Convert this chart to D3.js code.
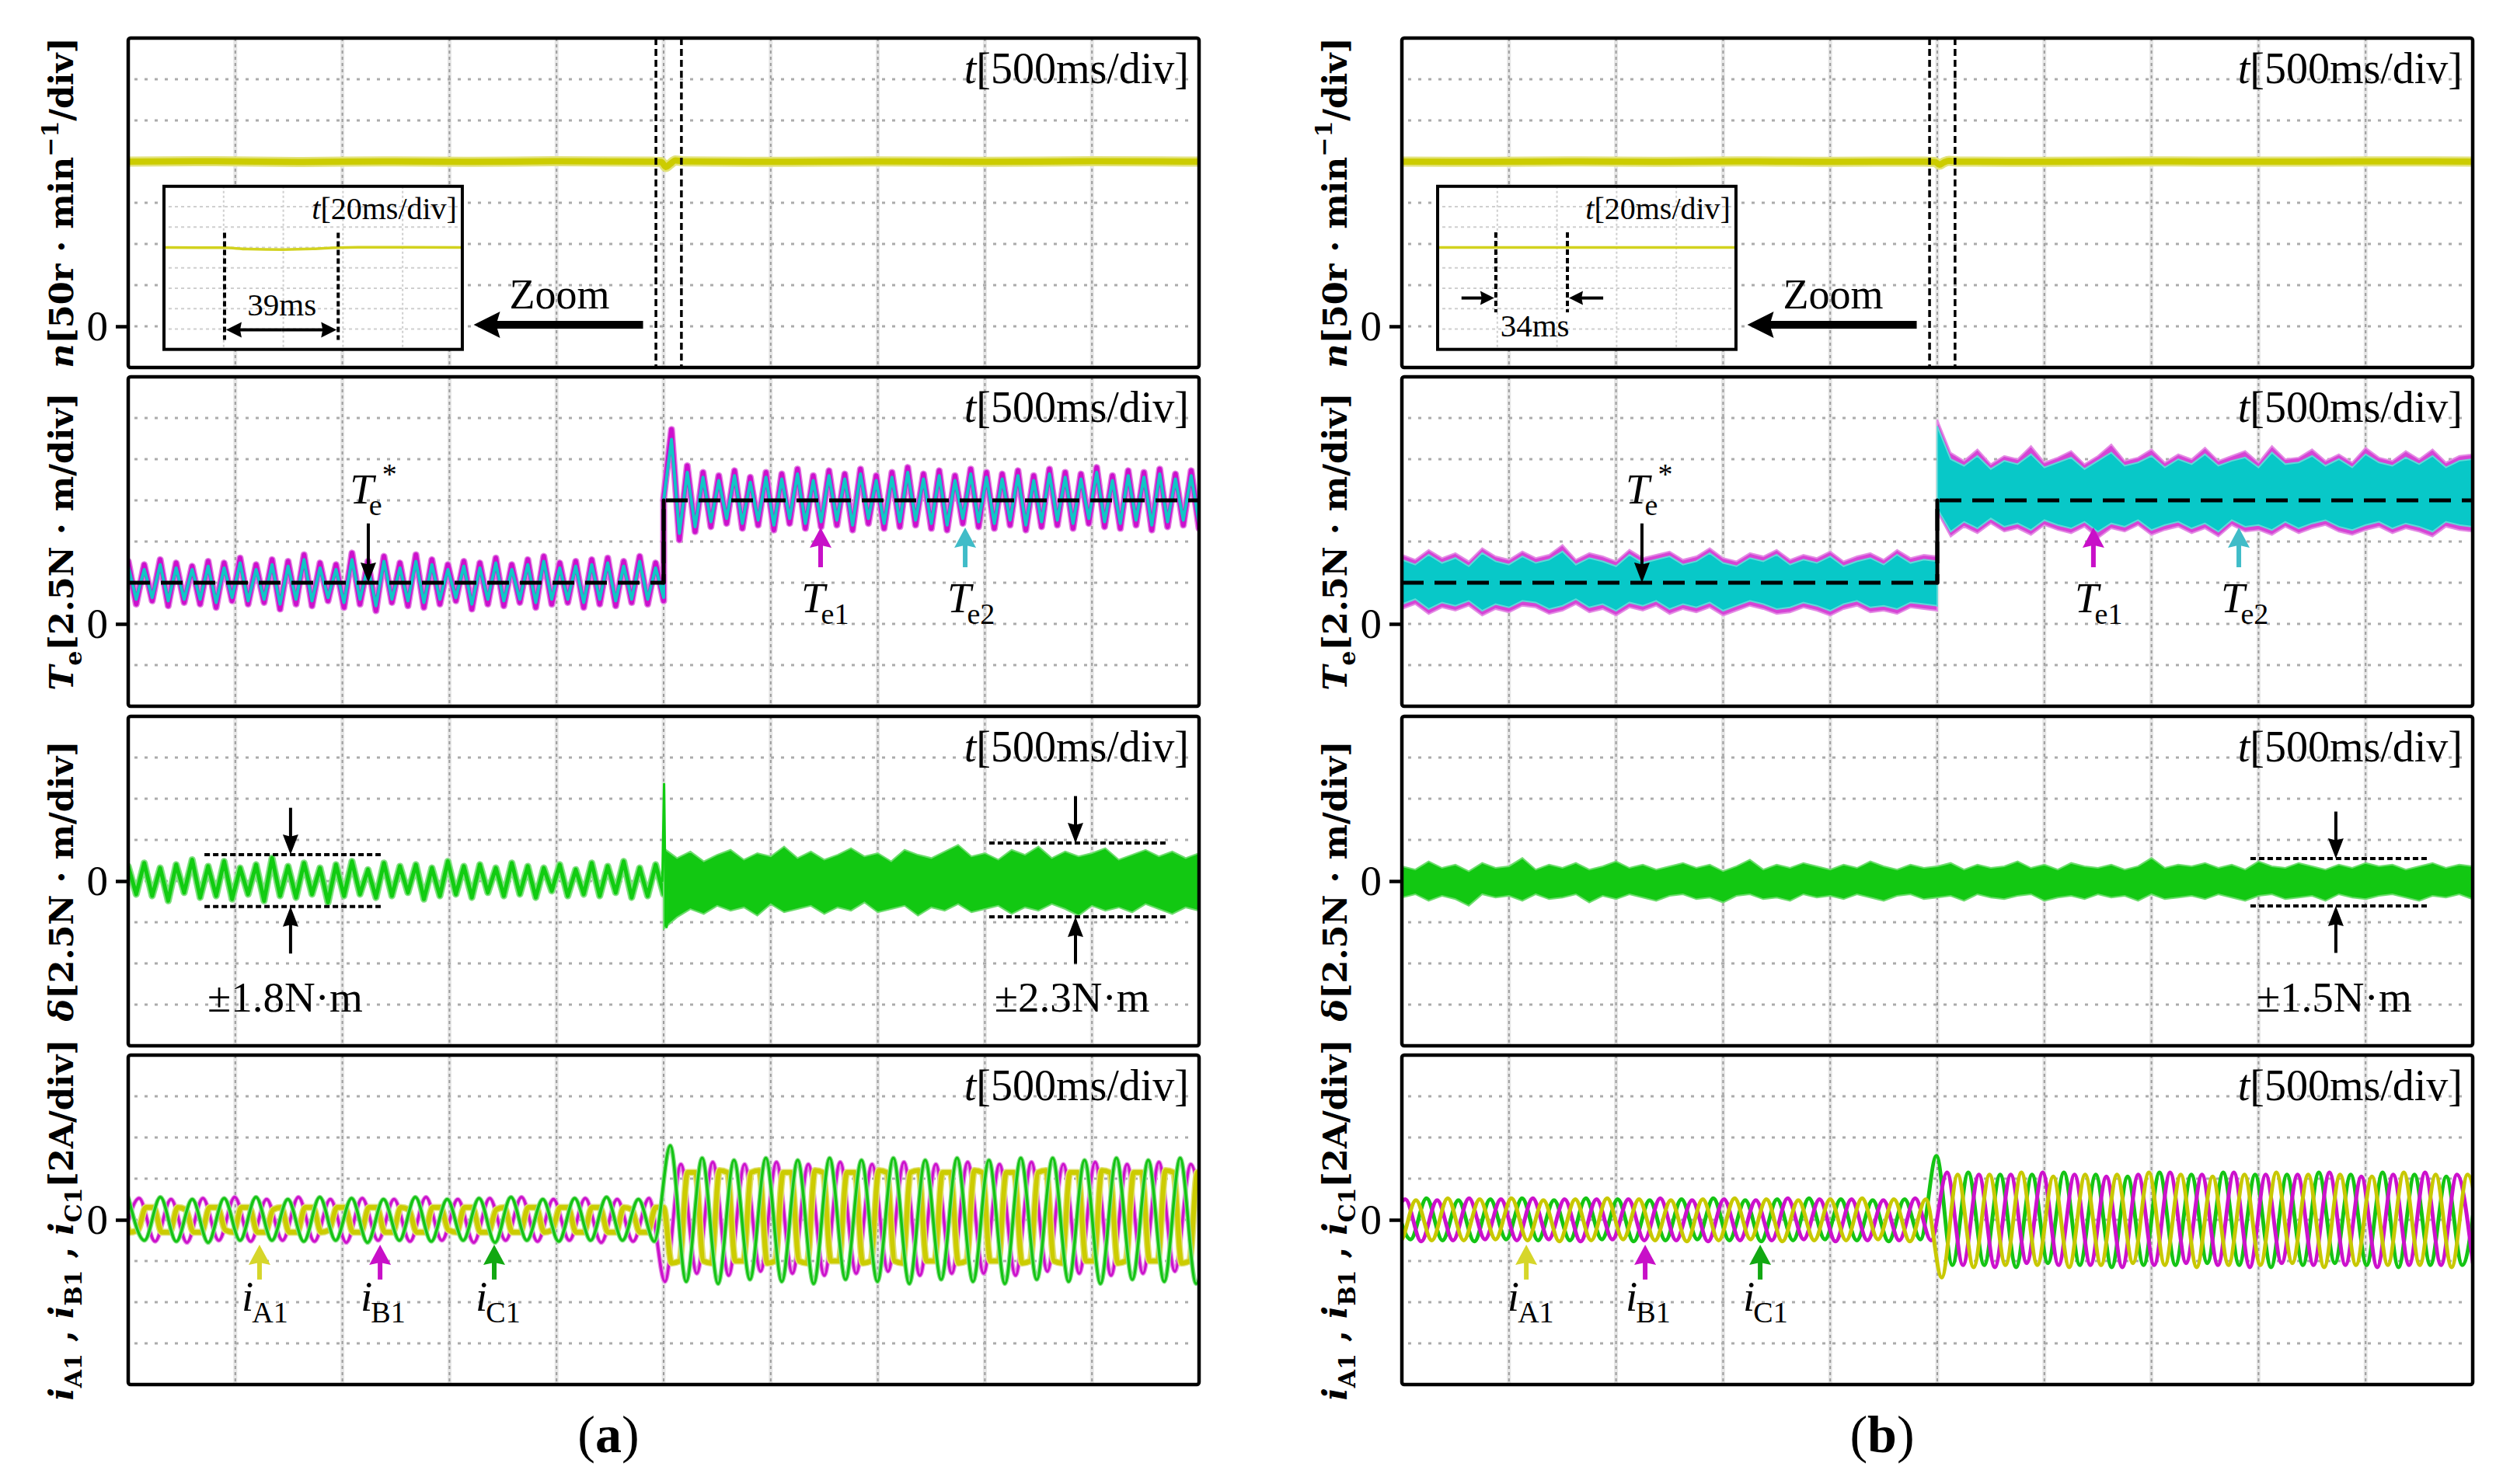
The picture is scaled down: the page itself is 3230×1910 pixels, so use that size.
<!DOCTYPE html>
<html><head><meta charset="utf-8">
<script src="https://cdn.jsdelivr.net/npm/d3@7/dist/d3.min.js"></script>
<style>
html,body{margin:0;padding:0;background:#fff;}
text{font-family:"Liberation Serif","Times New Roman",serif;}
</style></head><body>
<script>
// ================= DATA =================
const timeDomainMs = [0, 5000];      // 10 div x 500 ms/div
const msPerDiv = 500;
const stepTimeMs = 2500;

// ---- speed n [r/min] ----
const speedA_t = [0, 400, 800, 1200, 1600, 2000, 2440, 2490, 2510, 2530, 2555, 2600, 3000, 3500, 4000, 4500, 5000];
const speedA_v = [200, 200.5, 199.6, 200.3, 199.8, 200.4, 199.9, 199.5, 193.5, 197, 201.5, 200.2, 199.7, 200.3, 199.8, 200.4, 200];
const speedB_t = [0, 400, 800, 1200, 1600, 2000, 2440, 2490, 2510, 2530, 2555, 2600, 3000, 3500, 4000, 4500, 5000];
const speedB_v = [200, 199.8, 200.3, 199.7, 200.2, 199.8, 200.1, 199.6, 196.2, 199, 201, 200.1, 199.8, 200.2, 199.9, 200.3, 200];
// zoomed inset (20 ms/div, 5 div)
const insetA_t = [0, 20, 28, 40, 50, 58, 65, 100];
const insetA_v = [200, 199.5, 196, 195, 196.5, 199.5, 200.5, 200];
const insetB_t = [0, 25, 50, 75, 100];
const insetB_v = [200, 199.8, 200.2, 199.9, 200];
const insetMarkersA = [20.3, 58.4];
const insetMarkersB = [19.5, 43.5];

// ---- torque reference Te* [N·m] ----
const teRef_t = [0, 2500, 2500, 5000];
const teRef_v = [2.5, 2.5, 7.5, 7.5];

// ---- (a) Te1 / Te2 ripple extremes, before and after the load step ----
const te1A_pre = [3.8,1.2,3.6,1.4,3.9,1.1,3.7,1.3,3.5,1.2,3.8,1.0,3.7,1.4,4.0,1.2,3.6,1.3,3.9,0.9,3.8,1.2,4.2,1.1,3.7,1.4,3.6,1.0,4.3,1.2,3.8,0.8,4.1,1.3,3.7,1.1,4.2,1.0,3.9,1.2,3.6,1.4,3.8,0.9,3.7,1.2,4.0,1.1,3.6,1.3,3.9,1.0,4.1,1.2,3.7,1.3,3.8,1.0,3.9,1.2,4.0,1.1,3.8,1.3,4.1,1.2,3.7,1.4];
const te1A_post = [7.6,11.8,5.1,9.6,5.6,9.2,5.9,9.0,6.1,9.3,5.8,8.9,6.0,9.2,5.7,9.1,6.1,9.4,5.8,9.0,5.9,9.3,6.0,9.1,5.7,9.4,6.1,9.0,5.8,9.2,5.9,9.5,6.0,9.1,5.8,9.3,5.7,9.0,6.1,9.4,5.9,9.2,5.8,9.1,6.0,9.3,5.7,9.0,5.9,9.4,6.0,9.2,5.8,9.1,6.1,9.5,5.9,9.0,5.8,9.3,6.0,9.2,5.7,9.4,5.9,9.1,6.0,9.3,5.8];
const te2A_pre = [3.5,1.5,3.3,1.6,3.6,1.4,3.4,1.5,3.3,1.5,3.5,1.3,3.4,1.6,3.7,1.4,3.3,1.5,3.6,1.2,3.5,1.5,3.9,1.4,3.4,1.6,3.3,1.3,3.9,1.5,3.5,1.1,3.8,1.5,3.4,1.4,3.8,1.3,3.6,1.5,3.3,1.6,3.5,1.2,3.4,1.5,3.7,1.4,3.3,1.5,3.6,1.3,3.8,1.5,3.4,1.5,3.5,1.3,3.6,1.5,3.7,1.4,3.5,1.5,3.8,1.5,3.4,1.6];
const te2A_post = [7.5,11.2,5.5,9.2,5.9,8.9,6.2,8.7,6.4,9.0,6.1,8.6,6.3,8.9,6.0,8.8,6.4,9.1,6.1,8.7,6.2,9.0,6.3,8.8,6.0,9.1,6.4,8.7,6.1,8.9,6.2,9.2,6.3,8.8,6.1,9.0,6.0,8.7,6.4,9.1,6.2,8.9,6.1,8.8,6.3,9.0,6.0,8.7,6.2,9.1,6.3,8.9,6.1,8.8,6.4,9.2,6.2,8.7,6.1,9.0,6.3,8.9,6.0,9.1,6.2,8.8,6.3,9.0,6.1];

// ---- (b) Te1 / Te2 noise band envelopes (upper / lower) ----
const te1B_upPre = [4.2,3.9,4.5,4.0,4.3,3.8,4.6,4.1,3.9,4.4,4.0,4.2,4.8,3.9,4.3,4.1,3.8,4.5,4.0,4.2,4.4,3.9,4.1,4.6,4.0,3.8,4.3,4.1,4.5,3.9,4.2,4.0,4.4,3.8,4.1,4.3,3.9,4.5,4.0,4.2,4.1];
const te1B_loPre = [0.9,1.2,0.6,1.0,0.8,1.1,0.5,0.9,0.7,1.1,1.0,0.6,0.8,1.2,0.7,0.9,0.5,1.0,0.8,1.1,0.6,0.9,0.7,1.0,0.5,0.8,1.1,0.9,0.6,0.7,1.0,0.8,0.5,0.9,1.1,0.7,0.8,0.6,1.0,0.9,0.8];
const te2B_upPre = [3.9,3.6,4.2,3.7,4.0,3.5,4.3,3.8,3.6,4.1,3.7,3.9,4.4,3.6,4.0,3.8,3.5,4.2,3.7,3.9,4.1,3.6,3.8,4.3,3.7,3.5,4.0,3.8,4.2,3.6,3.9,3.7,4.1,3.5,3.8,4.0,3.6,4.2,3.7,3.9,3.8];
const te2B_loPre = [1.2,1.5,0.9,1.3,1.1,1.4,0.8,1.2,1.0,1.4,1.3,0.9,1.1,1.5,1.0,1.2,0.8,1.3,1.1,1.4,0.9,1.2,1.0,1.3,0.8,1.1,1.4,1.2,0.9,1.0,1.3,1.1,0.8,1.2,1.4,1.0,1.1,0.9,1.3,1.2,1.1];
const te1B_upPost = [12.4,10.4,9.9,10.6,9.7,10.2,10.0,10.8,9.8,10.1,10.5,9.7,10.2,10.9,9.9,10.1,10.6,9.8,10.3,10.0,10.7,9.9,10.2,10.5,9.8,10.8,10.0,10.1,10.6,9.9,10.3,9.8,10.7,10.1,9.9,10.5,10.0,10.6,9.8,10.2,10.3];
const te1B_loPost = [6.8,5.3,5.9,5.5,6.1,5.6,5.8,5.4,6.0,5.7,5.5,5.9,5.2,5.8,5.6,6.0,5.4,5.7,5.9,5.5,5.8,5.3,6.0,5.6,5.7,5.4,5.9,5.5,5.8,6.0,5.6,5.4,5.7,5.9,5.5,5.8,5.6,5.3,5.9,5.7,5.6];
const te2B_upPost = [12.0,10.0,9.6,10.2,9.4,9.9,9.7,10.3,9.5,9.8,10.1,9.4,9.9,10.4,9.6,9.8,10.2,9.5,10.0,9.7,10.3,9.6,9.9,10.1,9.5,10.4,9.7,9.8,10.2,9.6,10.0,9.5,10.3,9.8,9.6,10.1,9.7,10.2,9.5,9.9,10.0];
const te2B_loPost = [7.0,5.6,6.2,5.8,6.4,5.9,6.1,5.7,6.3,6.0,5.8,6.2,5.6,6.1,5.9,6.3,5.7,6.0,6.2,5.8,6.1,5.6,6.3,5.9,6.0,5.7,6.2,5.8,6.1,6.3,5.9,5.7,6.0,6.2,5.8,6.1,5.9,5.6,6.2,6.0,5.9];

// ---- torque error delta [N·m] ----
const deltaA_pre = [0.9,-0.8,1.1,-0.9,0.8,-1.2,1.0,-0.7,1.3,-1.0,0.9,-0.9,1.2,-1.1,0.8,-0.8,1.0,-1.2,1.4,-0.9,0.9,-1.0,1.1,-0.8,0.8,-1.3,1.0,-0.9,1.2,-0.8,0.7,-1.0,1.1,-0.9,0.9,-0.7,1.0,-1.1,0.8,-0.9,1.2,-0.8,0.9,-1.0,1.0,-0.7,0.8,-0.9,1.1,-0.8,0.9,-1.0,0.8,-0.6,1.0,-0.9,0.7,-0.8,1.1,-0.9,0.9,-0.7,1.2,-1.0,0.8,-0.9,1.0,-0.8];
const deltaA_upPost = [2.0,1.4,1.8,1.2,1.6,1.9,1.3,1.7,1.5,2.1,1.4,1.8,1.3,1.6,2.0,1.5,1.7,1.2,1.9,1.6,1.4,1.8,2.2,1.5,1.7,1.3,1.9,1.6,2.1,1.4,1.8,1.5,1.7,2.0,1.3,1.6,1.9,1.5,1.8,1.4,1.7];
const deltaA_loPost = [-2.9,-2.2,-1.7,-2.0,-1.5,-1.8,-1.6,-2.1,-1.4,-1.9,-1.7,-1.5,-2.0,-1.6,-1.8,-1.3,-1.9,-1.7,-1.5,-2.1,-1.6,-1.8,-1.4,-1.9,-1.7,-1.5,-2.0,-1.6,-1.8,-1.4,-1.7,-2.1,-1.5,-1.8,-1.6,-1.9,-1.4,-1.7,-2.0,-1.6,-1.8];
const deltaA_spike_t = [2494, 2502, 2507, 2514, 2524];
const deltaA_spike_v = [0, 5.9, 0.8, -2.8, -0.5];
const deltaB_up = [0.9,0.7,1.2,0.8,1.0,0.6,1.1,0.8,0.9,1.4,0.7,1.0,0.8,1.1,0.7,0.9,1.2,0.8,1.0,0.7,0.9,1.1,0.8,1.0,0.6,0.9,1.3,0.7,1.0,0.8,1.1,0.9,0.7,1.0,0.8,1.2,0.9,0.7,1.0,0.8,0.9,1.1,0.7,1.0,0.8,0.9,1.2,0.8,1.0,0.7,1.1,0.9,0.8,1.0,0.7,0.9,1.4,0.8,1.0,0.9,1.1,0.8,1.0,0.7,1.2,0.9,0.8,1.1,0.9,0.7,1.0,0.8,1.1,0.9,1.0,0.7,0.9,1.1,0.8,1.0,0.9];
const deltaB_lo = [-1.0,-0.8,-1.2,-0.9,-1.1,-1.5,-0.8,-1.0,-0.9,-1.2,-0.8,-1.1,-1.0,-0.8,-1.3,-0.9,-1.1,-0.8,-1.0,-1.2,-0.9,-0.8,-1.1,-1.0,-1.3,-0.9,-0.8,-1.1,-1.0,-1.2,-0.8,-1.0,-0.9,-1.1,-0.8,-1.0,-1.2,-0.9,-0.8,-1.1,-1.0,-0.9,-1.2,-0.8,-1.0,-1.1,-0.9,-0.8,-1.2,-1.0,-0.9,-1.1,-0.8,-1.0,-0.9,-1.2,-0.8,-1.1,-1.0,-0.9,-1.1,-0.8,-1.0,-1.2,-0.9,-0.8,-1.1,-1.0,-0.9,-1.2,-0.8,-1.0,-1.1,-0.9,-0.8,-1.0,-1.2,-0.9,-1.0,-0.8,-1.1];

// ---- phase currents [A]: successive extremes, half period 74.4 ms ----
const halfPeriodMs = 74.4;
// (a) iA1 is flat-topped: two samples per plateau
const iA1a_pre = [0.6,0.6,-0.6,-0.5,0.6,0.6,-0.6,-0.6,0.6,0.5,-0.6,-0.6,0.6,0.6,-0.5,-0.6,0.6,0.6,-0.6,-0.6,0.5,0.6,-0.6,-0.6,0.6,0.6,-0.6,-0.5,0.6,0.6,-0.6,-0.6,0.6,0.6,-0.6,-0.6,0.6,0.5,-0.6,-0.6,0.6,0.6,-0.5,-0.6,0.6,0.6,-0.6,-0.6,0.5,0.6,-0.6,-0.6,0.6,0.6,-0.6,-0.5,0.6,0.6,-0.6,-0.6,0.6,0.6,-0.6,-0.6,0.6,0.5,-0.6,-0.6,0.6,0.6];
const iA1a_post = [-2.1,-2.0,2.3,2.3,-2.0,-2.1,2.4,2.3,-2.0,-2.0,2.3,2.4,-2.1,-2.0,2.3,2.3,-2.0,-2.1,2.4,2.3,-2.0,-2.0,2.3,2.3,-2.1,-2.0,2.4,2.3,-2.0,-2.1,2.3,2.4,-2.0,-2.0,2.3,2.3,-2.1,-2.0,2.4,2.3,-2.0,-2.0,2.3,2.3,-2.1,-2.0,2.3,2.4,-2.0,-2.1,2.3,2.3,-2.0,-2.0,2.4,2.3,-2.1,-2.0,2.3,2.3,-2.0,-2.0,2.4,2.3,-2.1,-2.0,2.3,2.3];
const iB1a_pre = [-1.0,1.05,-1.05,1.0,-1.1,1.05,-1.0,1.1,-1.05,1.0,-1.0,1.1,-1.05,1.0,-1.1,1.05,-1.0,1.0,-1.05,1.1,-1.0,1.0,-1.1,1.05,-1.0,1.1,-1.05,1.0,-1.0,1.05,-1.1,1.0,-1.05,1.05];
const iB1a_post = [-3.0,2.7,-2.6,2.8,-2.7,2.7,-2.5,2.8,-2.6,2.7,-2.7,2.8,-2.6,2.7,-2.5,2.8,-2.7,2.7,-2.6,2.8,-2.6,2.7,-2.7,2.8,-2.5,2.7,-2.6,2.8,-2.7,2.7,-2.6,2.8,-2.5,2.7,-2.6];
const iC1a_pre = [1.05,-1.0,1.1,-1.05,1.0,-1.1,1.05,-1.0,1.1,-1.0,1.0,-1.05,1.1,-1.0,1.05,-1.1,1.0,-1.0,1.1,-1.05,1.0,-1.0,1.05,-1.1,1.1,-1.0,1.0,-1.05,1.05,-1.0,1.1,-1.0,1.0,-1.05];
const iC1a_post = [3.6,-3.0,3.0,-3.1,2.9,-2.9,3.0,-3.0,2.9,-3.1,3.0,-2.9,2.9,-3.0,3.0,-3.1,2.9,-2.9,3.0,-3.0,2.9,-3.1,3.0,-2.9,3.0,-3.0,2.9,-3.1,3.0,-2.9,2.9,-3.0,3.0,-3.1,2.9];
const iA1b_pre = [1.0,-1.05,0.95,-1.0,1.05,-1.0,1.0,-0.95,1.05,-1.0,0.95,-1.05,1.0,-1.0,1.05,-0.95,1.0,-1.0,0.95,-1.05,1.0,-1.0,1.05,-0.95,1.0,-1.05,0.95,-1.0,1.0,-1.0,1.05,-0.95,1.0,-1.05,1.0];
const iA1b_post = [-2.8,2.2,-2.3,2.2,-2.2,2.3,-2.2,2.1,-2.3,2.2,-2.2,2.2,-2.1,2.3,-2.2,2.2,-2.3,2.1,-2.2,2.2,-2.2,2.3,-2.1,2.2,-2.3,2.2,-2.2,2.1,-2.2,2.3,-2.2,2.2,-2.3,2.2,-2.2];
const iB1b_pre = [-1.0,1.0,-1.05,0.95,-1.0,1.05,-0.95,1.0,-1.0,1.05,-0.95,1.0,-1.05,1.0,-0.95,1.0,-1.0,1.05,-1.0,0.95,-1.05,1.0,-1.0,0.95,-1.0,1.05,-0.95,1.0,-1.05,1.0,-1.0,0.95,-1.0,1.05,-1.0];
const iB1b_post = [2.3,-2.2,2.2,-2.3,2.2,-2.1,2.3,-2.2,2.2,-2.2,2.1,-2.3,2.2,-2.2,2.3,-2.1,2.2,-2.2,2.3,-2.3,2.2,-2.1,2.2,-2.2,2.3,-2.2,2.1,-2.3,2.2,-2.2,2.3,-2.2,2.2,-2.1];
const iC1b_pre = [1.0,-0.95,1.05,-1.0,0.95,-1.05,1.0,-0.95,1.05,-1.0,0.95,-1.0,1.05,-0.95,1.0,-1.05,0.95,-1.0,1.0,-0.95,1.05,-1.0,0.95,-1.05,1.0,-1.0,1.05,-0.95,1.0,-1.0,0.95,-1.05,1.0,-0.95];
const iC1b_post = [3.1,-2.2,2.3,-2.2,2.2,-2.3,2.2,-2.1,2.3,-2.2,2.2,-2.3,2.1,-2.2,2.3,-2.2,2.2,-2.1,2.3,-2.2,2.2,-2.3,2.2,-2.2,2.3,-2.1,2.2,-2.2,2.3,-2.3,2.2,-2.2,2.1,-2.2,2.3];
// time of first extreme of each phase [ms]
const phaseStartA = {A: -66.8, B: -23.4, C: 1.4};
const phaseStartB = {A: -83.2, B: -58.4, C: -33.6};

// ---- text ----
const timeBaseLabel = "500ms/div";
const insetTimeLabel = "20ms/div";
const captions = ["(a)", "(b)"];
const rippleLabelsA = ["±1.8N·m", "±2.3N·m"];
const rippleLabelsB = ["±1.5N·m"];
const insetDurLabels = ["39ms", "34ms"];

// ================= LAYOUT =================
const W = 3230, H = 1910;
const colLeft = [165, 1804], PW = 1378, PH = 424, rowTop = [49, 485, 922, 1358];
const yDomains = [[-50, 350], [-5, 15], [-10, 10], [-8, 8]];
const C = {yellow:"#cccc00", magenta:"#cc11cc", cyan:"#11c6c6", green:"#11cc11",
           arrowY:"#d6d62a", arrowM:"#c810c8", arrowC:"#40bcc8", arrowG:"#12a812"};

const svg = d3.select("body").append("svg").attr("width", W).attr("height", H);
svg.append("rect").attr("width", W).attr("height", H).attr("fill", "#fff");
const defs = svg.append("defs");
const gridL = svg.append("g"), traceL = svg.append("g"), annL = svg.append("g"), frameL = svg.append("g");

const P = {};
for (let c = 0; c < 2; c++) for (let r = 0; r < 4; r++) {
  const x0 = colLeft[c], y0 = rowTop[r];
  const x = d3.scaleLinear().domain(timeDomainMs).range([x0, x0 + PW]);
  const y = d3.scaleLinear().domain(yDomains[r]).range([y0 + PH, y0]);
  const xt = d3.range(1, 10).map(i => i * msPerDiv);
  const [lo, hi] = yDomains[r], st = (hi - lo) / 8;
  const yt = d3.range(1, 8).map(j => lo + j * st);
  const g = gridL.append("g");
  g.selectAll(null).data(xt).join("line").attr("x1", d => x(d)).attr("x2", d => x(d))
    .attr("y1", y0).attr("y2", y0 + PH).attr("stroke", "#e6e6e6").attr("stroke-width", 5);
  g.selectAll(null).data(xt).join("line").attr("x1", d => x(d)).attr("x2", d => x(d))
    .attr("y1", y0).attr("y2", y0 + PH).attr("stroke", "#9c9c9c").attr("stroke-width", 2).attr("stroke-dasharray", "4,4");
  g.selectAll(null).data(yt).join("line").attr("x1", x0 + 8).attr("x2", x0 + PW - 8)
    .attr("y1", d => y(d)).attr("y2", d => y(d)).attr("stroke", "#ababab").attr("stroke-width", 3).attr("stroke-dasharray", "4,9");
  defs.append("clipPath").attr("id", `cp${c}${r}`).append("rect").attr("x", x0).attr("y", y0).attr("width", PW).attr("height", PH);
  const plot = traceL.append("g").attr("clip-path", `url(#cp${c}${r})`);
  P[`${c}${r}`] = {x, y, plot, x0, y0};
}

// helpers
const seq = (t0, dt, vals) => vals.map((v, i) => [t0 + i * dt, v]);
const span = (t0, t1, vals) => { const dt = (t1 - t0) / (vals.length - 1); return vals.map((v, i) => [t0 + i * dt, v]); };
const zip = (ts, vs) => ts.map((t, i) => [t, vs[i]]);
function lineOf(p, curve) { return d3.line().x(d => p.x(d[0])).y(d => p.y(d[1])).curve(curve || d3.curveLinear); }
function band(p, up, lo) { return d3.area().x(d => p.x(d.t)).y0(d => p.y(d.lo)).y1(d => p.y(d.hi))(up.map((u, i) => ({t: u[0], hi: u[1], lo: lo[i][1]}))); }
function drawPath(g, d, stroke, w, extra) {
  const s = g.append("path").attr("d", d).attr("fill", "none").attr("stroke", stroke).attr("stroke-width", w)
    .attr("stroke-linejoin", "round").attr("stroke-linecap", "round");
  if (extra) extra(s);
  return s;
}
function arrow(g, x1, y1, x2, y2, color, sw, hl, hw, notch) {
  const dx = x2 - x1, dy = y2 - y1, L = Math.hypot(dx, dy), ux = dx / L, uy = dy / L;
  const bx = x2 - ux * hl, by = y2 - uy * hl, n = notch || 0;
  g.append("line").attr("x1", x1).attr("y1", y1).attr("x2", bx + ux * (hl * n + 2)).attr("y2", by + uy * (hl * n + 2))
    .attr("stroke", color).attr("stroke-width", sw);
  g.append("path").attr("fill", color).attr("d",
    `M${x2},${y2}L${bx - uy * hw / 2},${by + ux * hw / 2}L${bx + ux * hl * n},${by + uy * hl * n}L${bx + uy * hw / 2},${by - ux * hw / 2}Z`);
}
// symbol with subscript (and optional superscript) as one text element
function sym(g, x, y, base, sub, sup, size, subSize, subDx) {
  const t = g.append("text").attr("x", x).attr("y", y).attr("font-size", size);
  t.append("tspan").attr("font-style", "italic").text(base);
  const sdy = Math.round(size * 0.27);
  t.append("tspan").attr("dx", subDx).attr("dy", sdy).attr("font-size", subSize).text(sub);
  if (sup) t.append("tspan").attr("dy", -sdy - Math.round(size * 0.45)).attr("font-size", subSize).text(sup);
}

// ================= TRACES =================
// speed
[[speedA_t, speedA_v], [speedB_t, speedB_v]].forEach(([ts, vs], c) => {
  const p = P[`${c}0`], d = lineOf(p, d3.curveMonotoneX)(zip(ts, vs));
  drawPath(p.plot, d, "#e2e27a", 13);
  drawPath(p.plot, d, C.yellow, 8);
});

// torque (a)
{
  const p = P["01"];
  const t1 = span(0, stepTimeMs, te1A_pre).concat(span(stepTimeMs, 5000, te1A_post));
  const t2 = span(0, stepTimeMs, te2A_pre).concat(span(stepTimeMs, 5000, te2A_post));
  drawPath(p.plot, lineOf(p)(t1), "#e27be2", 9);
  drawPath(p.plot, lineOf(p)(t1), C.magenta, 6);
  drawPath(p.plot, lineOf(p)(t2), C.cyan, 4);
}
// torque (b)
{
  const p = P["11"];
  const up1 = span(0, stepTimeMs, te1B_upPre).concat(span(stepTimeMs, 5000, te1B_upPost));
  const lo1 = span(0, stepTimeMs, te1B_loPre).concat(span(stepTimeMs, 5000, te1B_loPost));
  const up2 = span(0, stepTimeMs, te2B_upPre).concat(span(stepTimeMs, 5000, te2B_upPost));
  const lo2 = span(0, stepTimeMs, te2B_loPre).concat(span(stepTimeMs, 5000, te2B_loPost));
  p.plot.append("path").attr("d", band(p, up1, lo1)).attr("fill", "#d545d5").attr("stroke", "#e48ae4").attr("stroke-width", 2);
  p.plot.append("path").attr("d", band(p, up2, lo2)).attr("fill", "#08c8c8").attr("stroke", "#5fd8d8").attr("stroke-width", 2);
}
// Te* reference in both
[0, 1].forEach(c => {
  const p = P[`${c}1`], pts = zip(teRef_t, teRef_v);
  drawPath(annL, lineOf(p)(pts), "#000", 5, s => s.attr("stroke-dasharray", "28,14").attr("stroke-linecap", "butt"));
  drawPath(annL, lineOf(p)(pts.slice(1, 3)), "#000", 5);
});

// delta (a)
{
  const p = P["02"];
  const pre = span(0, stepTimeMs, deltaA_pre);
  drawPath(p.plot, lineOf(p)(pre), "#7fe07f", 9);
  drawPath(p.plot, lineOf(p)(pre), C.green, 5);
  const up = span(stepTimeMs, 5000, deltaA_upPost), lo = span(stepTimeMs, 5000, deltaA_loPost);
  p.plot.append("path").attr("d", band(p, up, lo)).attr("fill", "#12c812").attr("stroke", "#6ddc6d").attr("stroke-width", 2);
  drawPath(p.plot, lineOf(p)(zip(deltaA_spike_t, deltaA_spike_v)), C.green, 3);
}
// delta (b)
{
  const p = P["12"];
  const up = span(0, 5000, deltaB_up), lo = span(0, 5000, deltaB_lo);
  p.plot.append("path").attr("d", band(p, up, lo)).attr("fill", "#12c812").attr("stroke", "#6ddc6d").attr("stroke-width", 2);
}

// currents (a)
{
  const p = P["03"], L = lineOf(p, d3.curveMonotoneX);
  const a = seq(phaseStartA.A, halfPeriodMs / 2, iA1a_pre.concat(iA1a_post));
  const b = seq(phaseStartA.B, halfPeriodMs, iB1a_pre.concat(iB1a_post));
  const cc = seq(phaseStartA.C, halfPeriodMs, iC1a_pre.concat(iC1a_post));
  drawPath(p.plot, L(b), "#e690e6", 6); drawPath(p.plot, L(b), C.magenta, 3.5);
  drawPath(p.plot, L(a), "#e0e070", 9); drawPath(p.plot, L(a), C.yellow, 6);
  drawPath(p.plot, L(cc), "#8fe08f", 6); drawPath(p.plot, L(cc), "#14c414", 3.5);
}
// currents (b)
{
  const p = P["13"], L = lineOf(p, d3.curveMonotoneX);
  const a = seq(phaseStartB.A, halfPeriodMs, iA1b_pre.concat(iA1b_post));
  const b = seq(phaseStartB.B, halfPeriodMs, iB1b_pre.concat(iB1b_post));
  const cc = seq(phaseStartB.C, halfPeriodMs, iC1b_pre.concat(iC1b_post));
  drawPath(p.plot, L(cc), "#14c414", 5);
  drawPath(p.plot, L(b), C.magenta, 5);
  drawPath(p.plot, L(a), "#c8c800", 5);
}

// ================= ANNOTATIONS =================
// speed panels: zoom window, arrow, inset
const zoomWindowMs = [2464, 2583];
const insetBox = {t0: 167, t1: 1560, vTop: 170, vBot: -28};
[0, 1].forEach(c => {
  const p = P[`${c}0`];
  zoomWindowMs.forEach(t => annL.append("line").attr("x1", p.x(t)).attr("x2", p.x(t)).attr("y1", p.y0).attr("y2", p.y0 + PH)
    .attr("stroke", "#000").attr("stroke-width", 3.5).attr("stroke-dasharray", "9,5"));
  arrow(annL, p.x(2404), p.y(2), p.x(1613), p.y(2), "#000", 10, 34, 34, 0.15);
  annL.append("text").attr("x", p.x(1780)).attr("y", p.y(22)).attr("font-size", 54).text("Zoom");
  // inset
  const bx0 = p.x(insetBox.t0), bx1 = p.x(insetBox.t1), by0 = p.y(insetBox.vTop), by1 = p.y(insetBox.vBot);
  const ix = d3.scaleLinear().domain([0, 100]).range([bx0, bx1]);
  const iy = d3.scaleLinear().domain([-50, 350]).range([by1, by0]);
  const ig = annL.append("g");
  ig.append("rect").attr("x", bx0).attr("y", by0).attr("width", bx1 - bx0).attr("height", by1 - by0).attr("fill", "#fff");
  ig.selectAll(null).data([20, 40, 60, 80]).join("line").attr("x1", d => ix(d)).attr("x2", d => ix(d)).attr("y1", by0).attr("y2", by1)
    .attr("stroke", "#cfcfcf").attr("stroke-width", 2).attr("stroke-dasharray", "3,3");
  ig.selectAll(null).data(d3.range(1, 8).map(j => -50 + j * 50)).join("line").attr("x1", bx0 + 6).attr("x2", bx1 - 6)
    .attr("y1", d => iy(d)).attr("y2", d => iy(d)).attr("stroke", "#cfcfcf").attr("stroke-width", 2).attr("stroke-dasharray", "4,4");
  const its = c === 0 ? insetA_t : insetB_t, ivs = c === 0 ? insetA_v : insetB_v;
  ig.append("path").attr("d", d3.line().x(d => ix(d[0])).y(d => iy(d[1])).curve(d3.curveMonotoneX)(zip(its, ivs)))
    .attr("fill", "none").attr("stroke", "#d2d21e").attr("stroke-width", 3.5);
  const it = ig.append("text").attr("x", bx1 - 7).attr("y", by0 + 42).attr("font-size", 40).attr("text-anchor", "end");
  it.append("tspan").attr("font-style", "italic").text("t");
  it.append("tspan").text("[" + insetTimeLabel + "]");
  const mk = c === 0 ? insetMarkersA : insetMarkersB;
  const mv = c === 0 ? [236, -27] : [237, 41];
  mk.forEach(t => ig.append("line").attr("x1", ix(t)).attr("x2", ix(t)).attr("y1", iy(mv[0])).attr("y2", iy(mv[1]))
    .attr("stroke", "#000").attr("stroke-width", 4).attr("stroke-dasharray", "7,4"));
  if (c === 0) {
    const ym = iy(-2), xm = (ix(mk[0]) + ix(mk[1])) / 2;
    arrow(ig, xm, ym, ix(mk[0]) + 2, ym, "#000", 4, 20, 20, 0.1);
    arrow(ig, xm, ym, ix(mk[1]) - 2, ym, "#000", 4, 20, 20, 0.1);
    ig.append("text").attr("x", ix(39.5)).attr("y", iy(34)).attr("font-size", 41).attr("text-anchor", "middle").text(insetDurLabels[0]);
  } else {
    arrow(ig, ix(8), iy(76), ix(mk[0]) - 2, iy(76), "#000", 4, 18, 18, 0.1);
    arrow(ig, ix(55.5), iy(76), ix(mk[1]) + 2, iy(76), "#000", 4, 18, 18, 0.1);
    ig.append("text").attr("x", ix(21)).attr("y", iy(-17.6)).attr("font-size", 41).text(insetDurLabels[1]);
  }
  ig.append("rect").attr("x", bx0).attr("y", by0).attr("width", bx1 - bx0).attr("height", by1 - by0)
    .attr("fill", "none").attr("stroke", "#000").attr("stroke-width", 4);
});

// torque panels
const teAnn = [{ref: 1035, arrow: 1121, te1: 3233, te2: 3908, te1Lbl: 3142, te2Lbl: 3824},
               {ref: 1045, arrow: 1121, te1: 3229, te2: 3908, te1Lbl: 3142, te2Lbl: 3824}];
[0, 1].forEach(c => {
  const p = P[`${c}1`], a = teAnn[c];
  sym(annL, p.x(a.ref), p.y(7.3), "T", "e", "*", 55, 38, -6);
  arrow(annL, p.x(a.arrow), p.y(6.1), p.x(a.arrow), p.y(2.5), "#000", 4, 26, 20, 0.1);
  arrow(annL, p.x(a.te1), p.y(3.44), p.x(a.te1), p.y(5.85), C.arrowM, 6, 26, 28, 0.12);
  arrow(annL, p.x(a.te2), p.y(3.44), p.x(a.te2), p.y(5.85), C.arrowC, 6, 26, 28, 0.12);
  sym(annL, p.x(a.te1Lbl), p.y(0.71), "T", "e1", null, 55, 38, -5);
  sym(annL, p.x(a.te2Lbl), p.y(0.71), "T", "e2", null, 55, 38, -5);
});

// delta panels
const deltaAnn = [
  [{t0: 356, t1: 1179, up: 1.6, lo: -1.55, at: 758, lbl: 370, txt: rippleLabelsA[0]},
   {t0: 4020, t1: 4851, up: 2.31, lo: -2.17, at: 4423, lbl: 4045, txt: rippleLabelsA[1]}],
  [{t0: 3962, t1: 4793, up: 1.37, lo: -1.51, at: 4361, lbl: 3991, txt: rippleLabelsB[0]}]
];
[0, 1].forEach(c => {
  const p = P[`${c}2`];
  deltaAnn[c].forEach(a => {
    [a.up, a.lo].forEach(v => annL.append("line").attr("x1", p.x(a.t0)).attr("x2", p.x(a.t1)).attr("y1", p.y(v)).attr("y2", p.y(v))
      .attr("stroke", "#000").attr("stroke-width", 4).attr("stroke-dasharray", "7,4"));
    arrow(annL, p.x(a.at), p.y(a.up + 2.85), p.x(a.at), p.y(a.up), "#000", 4, 26, 20, 0.1);
    arrow(annL, p.x(a.at), p.y(a.lo - 2.85), p.x(a.at), p.y(a.lo), "#000", 4, 26, 20, 0.1);
    annL.append("text").attr("x", p.x(a.lbl)).attr("y", p.y(-7.92)).attr("font-size", 55).text(a.txt);
  });
});

// current panels
const iAnn = [{arr: [613, 1176, 1709], lbl: [530, 1085, 1622]}, {arr: [581, 1136, 1673], lbl: [493, 1045, 1593]}];
const iNames = ["A1", "B1", "C1"], iCols = [C.arrowY, C.arrowM, C.arrowG];
[0, 1].forEach(c => {
  const p = P[`${c}3`], a = iAnn[c];
  a.arr.forEach((t, k) => {
    arrow(annL, p.x(t), p.y(-2.9), p.x(t), p.y(-1.21), iCols[k], 6, 26, 28, 0.12);
    sym(annL, p.x(a.lbl[k]), p.y(-4.42), "i", iNames[k], null, 55, 38, -2);
  });
});

// ================= FRAMES, AXES, LABELS =================
const yLabelParts = [
  [{t: "n", bi: 1}, {t: "[50r · min"}, {t: "−1", sup: 1}, {t: "/div]"}],
  [{t: "T", bi: 1}, {t: "e", sub: 1}, {t: "[2.5N · m/div]"}],
  [{t: "δ", bi: 1}, {t: "[2.5N · m/div]"}],
  [{t: "i", bi: 1}, {t: "A1", sub: 1}, {t: " , "}, {t: "i", bi: 1}, {t: "B1", sub: 1}, {t: " , "}, {t: "i", bi: 1}, {t: "C1", sub: 1}, {t: "[2A/div]"}]
];
for (let c = 0; c < 2; c++) for (let r = 0; r < 4; r++) {
  const p = P[`${c}${r}`];
  frameL.append("rect").attr("x", p.x0).attr("y", p.y0).attr("width", PW).attr("height", PH).attr("rx", 3)
    .attr("fill", "none").attr("stroke", "#000").attr("stroke-width", 4.5);
  const ax = frameL.append("g").attr("transform", `translate(${p.x0},0)`)
    .call(d3.axisLeft(p.y).tickValues([0]).tickSize(16).tickPadding(10).tickFormat(d3.format("d")));
  ax.select(".domain").remove();
  ax.selectAll(".tick line").attr("stroke-width", 4.5);
  ax.selectAll(".tick text").attr("font-size", 55).attr("font-family", "Liberation Serif, serif");
  const tt = frameL.append("text").attr("x", p.x0 + PW - 13).attr("y", p.y0 + 58).attr("font-size", 56).attr("text-anchor", "end");
  tt.append("tspan").attr("font-style", "italic").text("t");
  tt.append("tspan").text("[" + timeBaseLabel + "]");
  // y label
  const cy = p.y0 + PH / 2, bx = p.x0 - 71;
  const lt = frameL.append("text").attr("transform", `translate(${bx},${cy}) rotate(-90)`).attr("text-anchor", "middle")
    .attr("font-size", 43).attr("font-weight", "bold").style("font-family", "'DejaVu Serif', serif");
  let shift = 0;
  yLabelParts[r].forEach(part => {
    const target = part.sub ? 11 : part.sup ? -19 : 0;
    const ts = lt.append("tspan").attr("dy", target - shift).text(part.t);
    shift = target;
    if (part.bi) ts.attr("font-style", "italic");
    if (part.sub || part.sup) ts.attr("font-size", 30);
  });
}
// captions
captions.forEach((cap, c) => {
  const t = frameL.append("text").attr("x", colLeft[c] + 618).attr("y", 1869).attr("font-size", 68).attr("text-anchor", "middle");
  t.append("tspan").text("(");
  t.append("tspan").attr("font-weight", "bold").text(cap.slice(1, 2));
  t.append("tspan").text(")");
});
</script>
</body></html>
